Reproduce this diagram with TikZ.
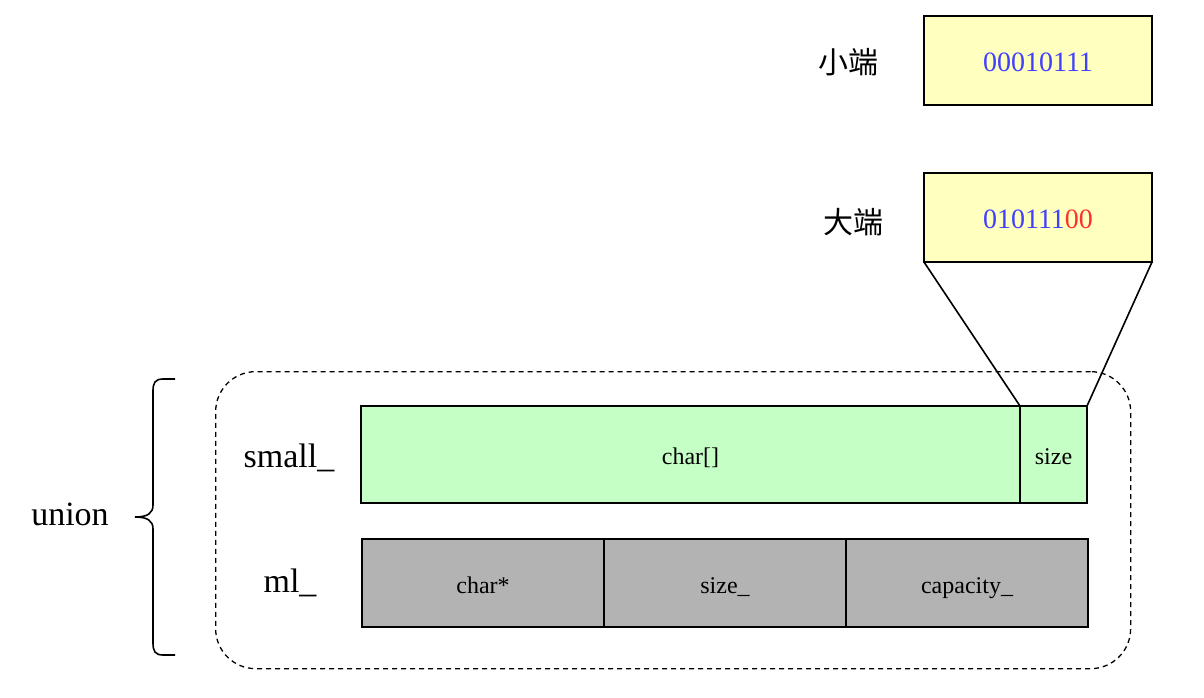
\documentclass[tikz,border=0pt]{standalone}
\usepackage{fontspec}
\setmainfont{Liberation Serif}
\newfontfamily\cjk{Noto Sans CJK SC}
\definecolor{yel}{HTML}{FFFFC0}
\definecolor{grn}{HTML}{C6FFC6}
\definecolor{gry}{HTML}{B3B3B3}
\definecolor{bl}{HTML}{4040FF}
\definecolor{rd}{HTML}{FF3030}
\begin{document}
\begin{tikzpicture}[x=1pt,y=-1pt,
  cell/.style={draw=black,line width=1.6pt,anchor=north west,inner sep=0pt,outer sep=0pt,text height=24pt,text depth=4pt,font=\fontsize{24}{26}\selectfont},
  lab/.style={font=\fontsize{34}{36}\selectfont,inner sep=0pt},
  cjklab/.style={font=\cjk\fontsize{30}{34}\selectfont,inner sep=0pt},
  bits/.style={cell,fill=yel,minimum width=228pt,minimum height=89pt,text height=22pt,text depth=1pt,font=\fontsize{28}{30}\selectfont}]
\useasboundingbox (0,0) rectangle (1204,697);
% endian boxes
\node[bits] (lit) at (924,16) {\textcolor{bl}{00010111}};
\node[bits] (big) at (924,173) {\textcolor{bl}{010111}\textcolor{rd}{00}};
\node[cjklab] (litl) at (848,62) {小端};
\node[cjklab] (bigl) at (853,222) {大端};
% union container
\node[draw,dashed,line width=1.3pt,rounded corners=40pt,minimum width=915pt,minimum height=297pt,anchor=north west,inner sep=0pt,dash pattern=on 5pt off 4pt] (cont) at (215,371) {};
% small_ row
\node[cell,fill=grn,minimum width=659pt,minimum height=97pt] (chr) at (361,406) {char[]};
\node[cell,fill=grn,minimum width=67pt,minimum height=97pt] (sz) at (1020,406) {size};
% ml_ row
\node[cell,fill=gry,minimum width=242pt,minimum height=88pt] (cp) at (362,539) {char*};
\node[cell,fill=gry,minimum width=242pt,minimum height=88pt] (sz2) at (604,539) {size\_};
\node[cell,fill=gry,minimum width=242pt,minimum height=88pt] (cap) at (846,539) {capacity\_};
% labels
\node[lab] (sl) at (289,458) {small\_};
\node[lab] (ml) at (290,583) {ml\_};
\node[lab] (un) at (70,514) {union};
% zoom lines
\draw[line width=1.6pt] (big.south west) -- (sz.north west);
\draw[line width=1.6pt] (big.south east) -- (sz.north east);
% brace
\coordinate (btop) at (175,379);
\coordinate (bbot) at (175,655);
\coordinate (btip) at (135,517);
\draw[line width=1.6pt] (btop) -- (163,379) .. controls (155,379) and (153,383) .. (153,391) -- (153,505) .. controls (153,513) and (148,517) .. (btip) .. controls (148,517) and (153,521) .. (153,529) -- (153,643) .. controls (153,651) and (155,655) .. (163,655) -- (bbot);
\end{tikzpicture}
\end{document}
